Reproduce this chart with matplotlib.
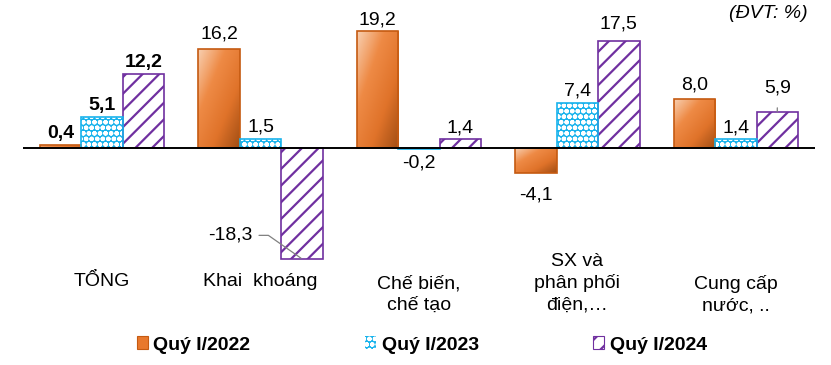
import numpy as np
import matplotlib
matplotlib.use("Agg")
import matplotlib.pyplot as plt
from matplotlib.colors import LinearSegmentedColormap
from matplotlib.patches import Patch

plt.rcParams['font.family'] = ['Liberation Sans', 'DejaVu Sans']
plt.rcParams['hatch.linewidth'] = 1.6

categories = ["TỔNG", "Khai  khoáng", "Chế biến,\nchế tạo", "SX và\nphân phối\nđiện,…", "Cung cấp\nnước, .."]
series_names = ["Quý I/2022", "Quý I/2023", "Quý I/2024"]
q2022 = [0.4, 16.2, 19.2, -4.1, 8.0]
q2023 = [5.1, 1.5, -0.2, 7.4, 1.4]
q2024 = [12.2, -18.3, 1.4, 17.5, 5.9]
unit_label = "(ĐVT: %)"

W, H = 831, 365
fig = plt.figure(figsize=(W / 100, H / 100), dpi=100)
ax = fig.add_axes([23 / W, (H - 270) / H, 792 / W, 270 / H])
scale = 6.08
ax.axis('off')

x = np.arange(len(categories))
bw = 0.262
orange_edge = '#C55A11'
cyan = '#19B3EC'
purple = '#7030A0'

cmap = LinearSegmentedColormap.from_list('og', ['#F8CFB0', '#EE8A45', '#E0732A', '#A24E14'])
grad = np.add.outer(np.linspace(0, 1, 64), np.linspace(0, 1, 64)) / 2.0

# Quý I/2022 - gradient orange
bars0 = ax.bar(x - bw, q2022, bw, color='none', edgecolor=orange_edge, linewidth=1.2, zorder=3)
for b in bars0:
    x0, y0 = b.get_x(), b.get_y()
    w, h = b.get_width(), b.get_height()
    ytop, ybot = max(y0, y0 + h), min(y0, y0 + h)
    im = ax.imshow(grad, cmap=cmap, extent=[x0, x0 + w, ybot, ytop], origin='upper',
                   aspect='auto', zorder=2, interpolation='bicubic')
    im.set_clip_path(b)

# Quý I/2023 - cyan with white circles
ax.bar(x, q2023, bw, color=cyan, edgecolor='white', hatch='ooo', linewidth=0, zorder=2)
ax.bar(x, q2023, bw, color='none', edgecolor=cyan, linewidth=1.2, zorder=3)

# Quý I/2024 - purple diagonal hatch
ax.bar(x + bw, q2024, bw, color='white', edgecolor=purple, hatch='//', linewidth=1.2, zorder=2)

ax.set_xlim(-0.5, len(categories) - 0.5)
ax.set_ylim(-(270 - 147.7) / scale, 147.7 / scale)
ax.axhline(0, color='black', linewidth=1.4, zorder=4)

def fmt(v):
    return f"{v:.1f}".replace('.', ',')

fs = 14
extra_up = {(0, 1): 3, (2, 3): 4, (0, 4): 2}
for si, (vals, off) in enumerate([(q2022, -bw), (q2023, 0.0), (q2024, bw)]):
    for ci, v in enumerate(vals):
        weight = 'bold' if ci == 0 else 'normal'
        xc = ci + off
        if si == 2 and ci == 1:
            ax.annotate(fmt(v), xy=(xc, v), xytext=(-52, 17), textcoords='offset points',
                        ha='center', va='center', fontsize=fs, weight=weight,
                        arrowprops=dict(arrowstyle='-', color='#808080', lw=0.9,
                                        shrinkA=3, shrinkB=1,
                                        connectionstyle='angle,angleA=0,angleB=-35,rad=0'))
        elif si == 2 and ci == 4:
            ax.annotate(fmt(v), xy=(xc, v), xytext=(0, 17), textcoords='offset points',
                        ha='center', va='center', fontsize=fs, weight=weight,
                        arrowprops=dict(arrowstyle='-', color='#808080', lw=0.9,
                                        shrinkA=6, shrinkB=0))
        elif v >= 0:
            ax.annotate(fmt(v), xy=(xc, v), xytext=(0, 2 + extra_up.get((si, ci), 0)),
                        textcoords='offset points',
                        ha='center', va='bottom', fontsize=fs, weight=weight)
        else:
            dy = -10 if si == 0 else -4
            ax.annotate(fmt(v), xy=(xc, v), xytext=(0, dy), textcoords='offset points',
                        ha='center', va='top', fontsize=fs, weight=weight)

# category labels
label_y_px = [282, 282, 294.5, 283, 294.5]
for ci, lab in enumerate(categories):
    ax.text(ci, (270 - label_y_px[ci]) / 270, lab, transform=ax.get_xaxis_transform(),
            ha='center', va='center', fontsize=fs, linespacing=1.32, clip_on=False)

fig.text(808 / W, 1 - 13 / H, unit_label, ha='right', va='center', fontsize=fs, style='italic')

handles = [Patch(facecolor='#E8782C', edgecolor=orange_edge, linewidth=0.8),
           Patch(facecolor=cyan, edgecolor='white', hatch='ooo', linewidth=0),
           Patch(facecolor='white', edgecolor=purple, hatch='//', linewidth=0.8)]
leg = fig.legend(handles, series_names, loc='center', bbox_to_anchor=(422 / W, 1 - 345 / H),
                 ncol=3, frameon=False, prop=dict(size=fs, weight='bold'),
                 handlelength=0.55, handleheight=0.6, handletextpad=0.3, columnspacing=5.9,
                 borderpad=0, borderaxespad=0)

fig.savefig('out.png', dpi=100)
